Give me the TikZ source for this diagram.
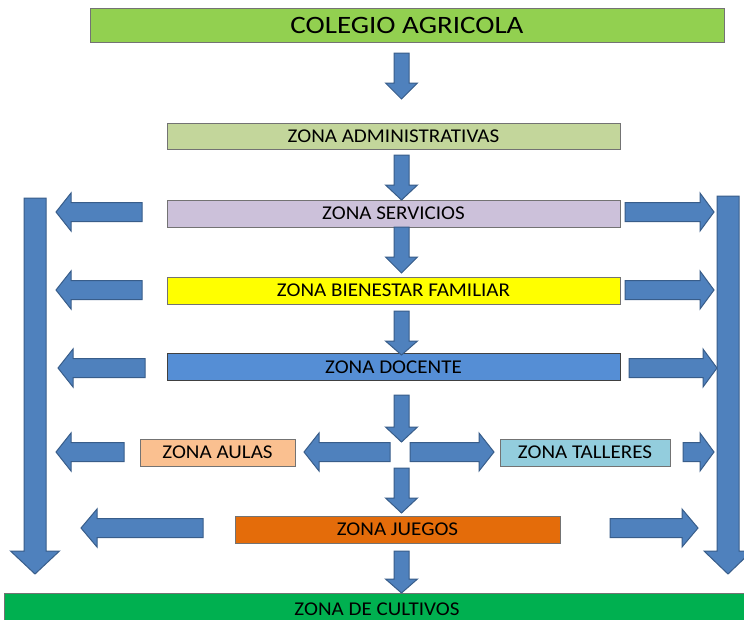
\documentclass[tikz,border=0pt]{standalone}
\usepackage{fontspec}
\setmainfont{Carlito}
\newfontfamily\zfont[FakeStretch=1.08]{Carlito}
\newfontfamily\cfont[FakeStretch=1.16]{Carlito}
\usetikzlibrary{calc}
\definecolor{arrfill}{HTML}{4F81BD}
\definecolor{arrdraw}{HTML}{385D8A}
\definecolor{cColegio}{HTML}{92D050}
\definecolor{cAdm}{HTML}{C3D69B}
\definecolor{cSer}{HTML}{CCC1DA}
\definecolor{cBie}{HTML}{FFFF00}
\definecolor{cDoc}{HTML}{558ED5}
\definecolor{cAul}{HTML}{FAC090}
\definecolor{cTal}{HTML}{93CDDD}
\definecolor{cJue}{HTML}{E46C0A}
\definecolor{cCul}{HTML}{00B050}
\tikzset{
  zbox/.style={draw=black!55, line width=0.8pt, inner sep=0pt, minimum height=27pt,
    font=\zfont\fontsize{19.5}{19.5}\selectfont},
  blockarr/.style={fill=arrfill, draw=arrdraw, line width=1pt, line join=miter}
}
\newcommand\barrow[5]{%
  \coordinate (ba) at #1; \coordinate (bb) at #2;
  \coordinate (bh) at ($(bb)!#5pt!(ba)$);
  \draw[blockarr] ($(ba)!#3pt!90:(bb)$) -- ($(bh)!#3pt!90:(bb)$) -- ($(bh)!#4pt!90:(bb)$)
    -- (bb) -- ($(bh)!#4pt!-90:(bb)$) -- ($(bh)!#3pt!-90:(bb)$) -- ($(ba)!#3pt!-90:(bb)$) -- cycle;
}
\begin{document}
\begin{tikzpicture}[x=1pt,y=-1pt]
\useasboundingbox (0,0) rectangle (744,619);
\clip (0,0) rectangle (744,619);
\fill[white] (0,0) rectangle (744,619);
% boxes
\node[zbox, fill=cColegio, minimum width=634pt, minimum height=34pt, font=\cfont\fontsize{25}{25}\selectfont] (col) at (407,25) {COLEGIO AGRICOLA};
\node[zbox, fill=cAdm, minimum width=453pt, minimum height=26pt] (adm) at (393.5,136) {ZONA ADMINISTRATIVAS};
\node[zbox, fill=cSer, minimum width=453pt] (ser) at (393.5,213.5) {ZONA SERVICIOS};
\node[zbox, fill=cBie, minimum width=453pt] (bie) at (393.5,290.5) {ZONA BIENESTAR FAMILIAR};
\node[zbox, fill=cDoc, minimum width=453pt, draw=black!75] (doc) at (393.5,367) {ZONA DOCENTE};
\node[zbox, fill=cAul, minimum width=155pt] (aul) at (217.5,452.5) {ZONA AULAS};
\node[zbox, fill=cTal, minimum width=170pt] (tal) at (585,452.5) {ZONA TALLERES};
\node[zbox, fill=cJue, minimum width=325pt] (jue) at (397.5,529.5) {ZONA JUEGOS};
\node[zbox, fill=cCul, minimum width=746pt, minimum height=32pt] (cul) at (377,609) {ZONA DE CULTIVOS};
% central down arrows
\coordinate (c1a) at (401.5,53);  \coordinate (c1b) at (401.5,99);
\coordinate (c2a) at (401.5,155); \coordinate (c2b) at (401.5,200);
\coordinate (c3a) at (401.5,227); \coordinate (c3b) at (401.5,273);
\coordinate (c4a) at (401.5,311); \coordinate (c4b) at (401.5,355);
\coordinate (c5a) at (401.5,395); \coordinate (c5b) at (401.5,442);
\coordinate (c6a) at (401.5,468); \coordinate (c6b) at (401.5,513);
\coordinate (c7a) at (401.5,551); \coordinate (c7b) at (401.5,593);
\barrow{(c1a)}{(c1b)}{7.5}{16}{16}
\barrow{(c2a)}{(c2b)}{7.5}{16}{15}
\barrow{(c3a)}{(c3b)}{7.5}{16}{16}
\barrow{(c4a)}{(c4b)}{7.5}{16}{14}
\barrow{(c5a)}{(c5b)}{7.5}{16}{15}
\barrow{(c6a)}{(c6b)}{7.5}{16}{15}
\barrow{(c7a)}{(c7b)}{7.5}{16}{14}
% left side arrows
\coordinate (l1a) at (142,212); \coordinate (l1b) at (56,212);
\coordinate (l2a) at (142,290); \coordinate (l2b) at (56,290);
\coordinate (l3a) at (145,368); \coordinate (l3b) at (58,368);
\coordinate (l4a) at (124,452); \coordinate (l4b) at (56,452);
\coordinate (l5a) at (203,528); \coordinate (l5b) at (81,528);
\barrow{(l1a)}{(l1b)}{9.5}{19}{15}
\barrow{(l2a)}{(l2b)}{9.5}{19}{15}
\barrow{(l3a)}{(l3b)}{9.5}{19}{15}
\barrow{(l4a)}{(l4b)}{9.5}{19}{15}
\barrow{(l5a)}{(l5b)}{9.5}{19}{16}
% right side arrows
\coordinate (r1a) at (625,212); \coordinate (r1b) at (714,212);
\coordinate (r2a) at (625,290); \coordinate (r2b) at (714,290);
\coordinate (r3a) at (629,368); \coordinate (r3b) at (717,368);
\coordinate (r4a) at (683,452); \coordinate (r4b) at (714,452);
\coordinate (r5a) at (610,528); \coordinate (r5b) at (698,528);
\barrow{(r1a)}{(r1b)}{9.5}{19}{14}
\barrow{(r2a)}{(r2b)}{9.5}{19}{14}
\barrow{(r3a)}{(r3b)}{9.5}{19}{14}
\barrow{(r4a)}{(r4b)}{9.5}{19}{14}
\barrow{(r5a)}{(r5b)}{9.5}{19}{16}
% middle horizontal arrows
\coordinate (m1a) at (390,452); \coordinate (m1b) at (304,452);
\coordinate (m2a) at (410,452); \coordinate (m2b) at (494,452);
\barrow{(m1a)}{(m1b)}{9.5}{19}{15}
\barrow{(m2a)}{(m2b)}{9.5}{19}{15}
% big side arrows
\coordinate (bl1) at (35,198); \coordinate (bl2) at (35,574);
\coordinate (br1) at (728,196); \coordinate (br2) at (728,574);
\barrow{(bl1)}{(bl2)}{11}{24.5}{23}
\barrow{(br1)}{(br2)}{11}{24}{23}
\end{tikzpicture}
\end{document}
